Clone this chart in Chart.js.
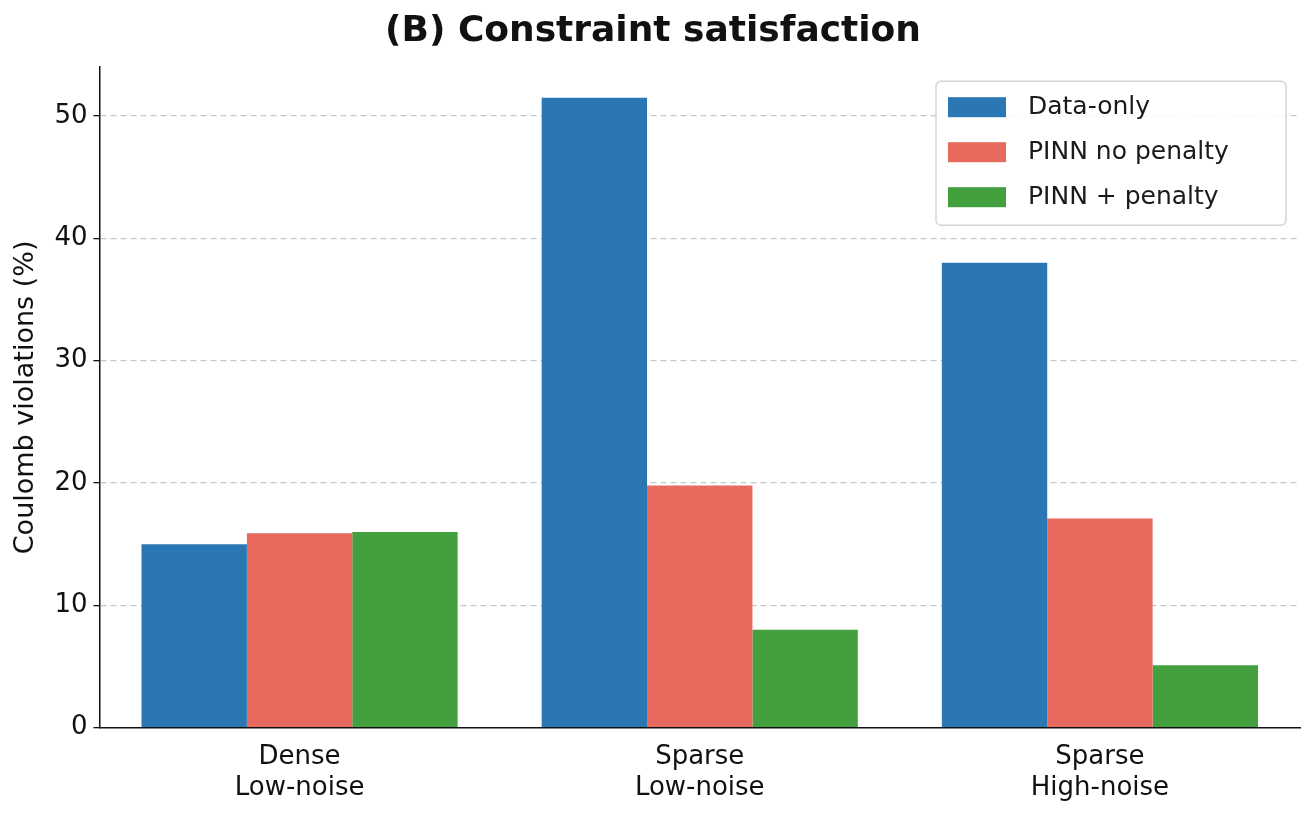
<!DOCTYPE html>
<html>
<head>
<meta charset="utf-8">
<script src="https://cdn.jsdelivr.net/npm/chart.js@4.4.1/dist/chart.umd.min.js"></script>
<style>
  html, body { margin: 0; padding: 0; background: #fff; }
  #wrap { width: 1312px; height: 816px; }
</style>
</head>
<body>
<div id="wrap"><canvas id="chart" width="1312" height="816"></canvas></div>
<script>
const categories = [["Dense", "Low-noise"], ["Sparse", "Low-noise"], ["Sparse", "High-noise"]];
const seriesNames = ["Data-only", "PINN no penalty", "PINN + penalty"];
const dataOnly = [15.0, 51.5, 38.0];
const pinnNoPenalty = [15.9, 19.8, 17.1];
const pinnPenalty = [16.0, 8.0, 5.1];
const yTicks = [0, 10, 20, 30, 40, 50];
const colors = ["#2a77b3", "#e8695d", "#43a03f"];

const FONT = "'DejaVu Sans', sans-serif";

// legend drawn inside the plot, top right, with a rounded frame
const insideLegend = {
    id: "insideLegend",
    afterDraw(chart) {
        const ctx = chart.ctx;
        const area = chart.chartArea;
        const boxW = 350, boxH = 144;
        const x0 = area.right - boxW - 14, y0 = area.top + 14;
        ctx.save();
        ctx.fillStyle = "rgba(255,255,255,0.85)";
        ctx.strokeStyle = "#d5d5d5";
        ctx.lineWidth = 1.5;
        ctx.beginPath();
        ctx.roundRect(x0, y0, boxW, boxH, 5);
        ctx.fill();
        ctx.stroke();
        ctx.font = "25px " + FONT;
        ctx.textBaseline = "middle";
        chart.data.datasets.forEach((ds, i) => {
            const cy = y0 + 26 + i * 45;
            ctx.fillStyle = ds.backgroundColor;
            ctx.fillRect(x0 + 12, cy - 10, 58, 20);
            ctx.fillStyle = "#1a1a1a";
            ctx.fillText(ds.label, x0 + 92, cy);
        });
        ctx.restore();
    }
};

new Chart(document.getElementById("chart").getContext("2d"), {
    type: "bar",
    data: {
        labels: categories,
        datasets: [
            { label: seriesNames[0], data: dataOnly, backgroundColor: colors[0] },
            { label: seriesNames[1], data: pinnNoPenalty, backgroundColor: colors[1] },
            { label: seriesNames[2], data: pinnPenalty, backgroundColor: colors[2] }
        ]
    },
    options: {
        responsive: false,
        animation: false,
        layout: { padding: { left: 6, right: 12, top: 6, bottom: 6 } },
        datasets: { bar: { categoryPercentage: 0.79, barPercentage: 1.0 } },
        plugins: {
            legend: { display: false },
            tooltip: { enabled: false },
            title: {
                display: true,
                text: "(B) Constraint satisfaction",
                color: "#111",
                font: { family: FONT, size: 36 },
                padding: { top: 4, bottom: 14 }
            }
        },
        scales: {
            x: {
                grid: { display: false },
                border: { color: "#111", width: 1.5 },
                ticks: { color: "#111", font: { family: FONT, size: 26 }, padding: 6 }
            },
            y: {
                min: 0,
                max: 54,
                afterBuildTicks(axis) { axis.ticks = yTicks.map(v => ({ value: v })); },
                grid: {
                    color: ctx => ctx.tick.value === 0 ? "rgba(0,0,0,0)" : "#c8c8c8",
                    lineWidth: 1.3,
                    drawTicks: true,
                    tickColor: "#111",
                    tickLength: 6
                },
                border: { color: "#111", width: 1.5, dash: [6, 4] },
                ticks: { color: "#111", font: { family: FONT, size: 26 }, padding: 6 },
                title: {
                    display: true,
                    text: "Coulomb violations (%)",
                    color: "#111",
                    font: { family: FONT, size: 27 },
                    padding: { bottom: 6 }
                }
            }
        }
    },
    plugins: [insideLegend]
});
</script>
</body>
</html>
